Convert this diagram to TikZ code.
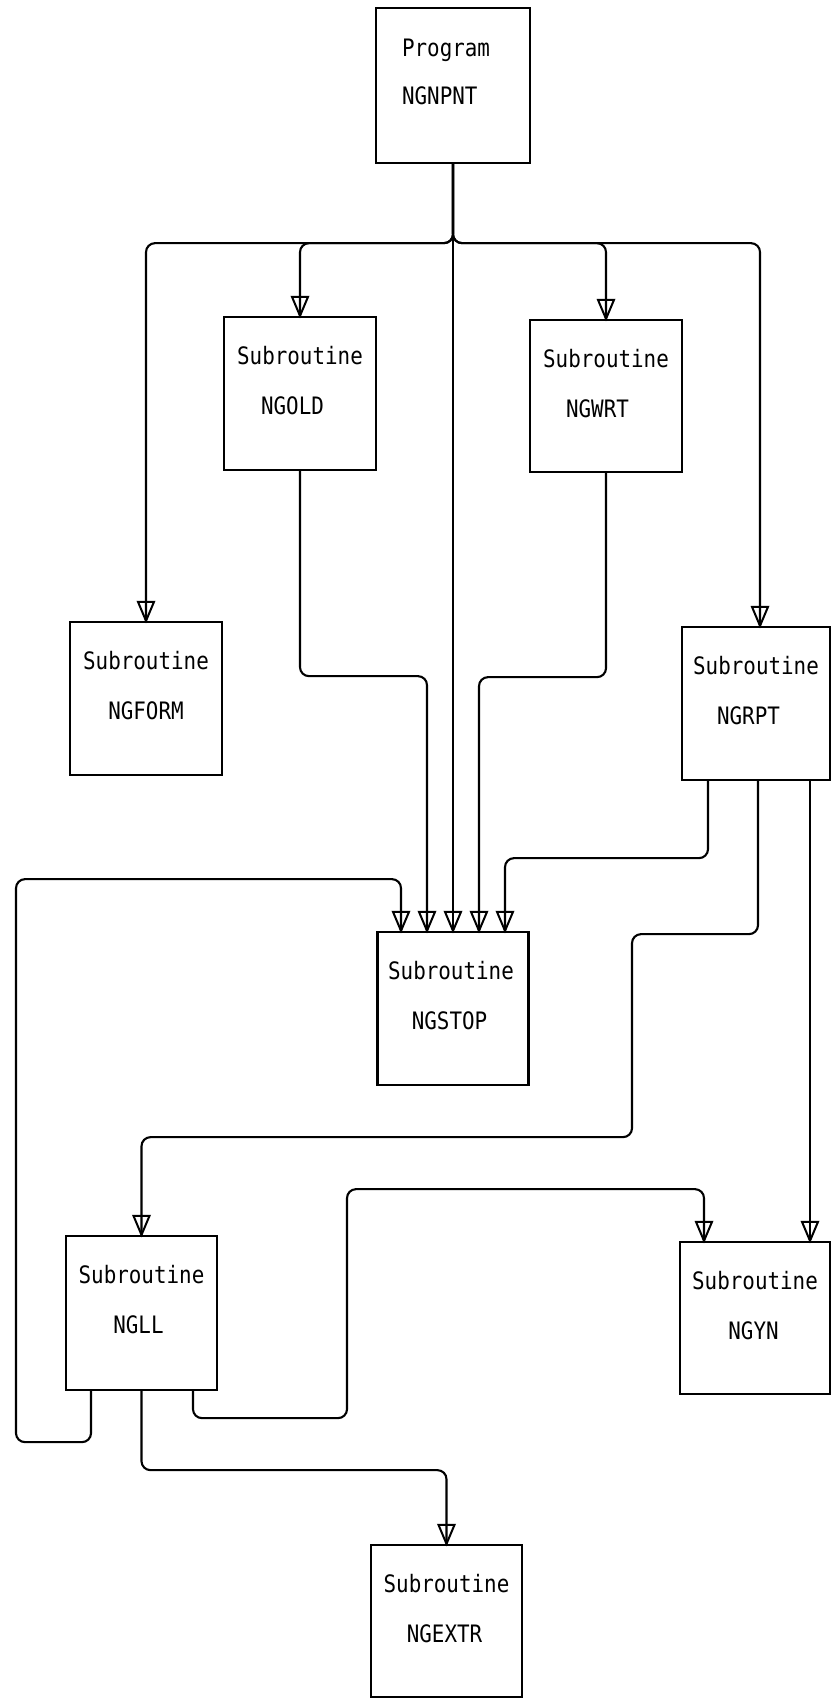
\documentclass[tikz,border=0pt]{standalone}
\usepackage{fontspec}
\newfontfamily\plotfont[FakeStretch=0.87]{DejaVu Sans Mono}
\usetikzlibrary{decorations.markings}
\begin{document}
\begin{tikzpicture}[x=1pt,y=-1pt,
  box/.style={draw, line width=2.3pt, minimum width=152pt, minimum height=153pt, inner sep=0pt},
  lbl/.style={font=\plotfont\fontsize{24}{24}\selectfont, inner sep=0pt, anchor=base},
  lblw/.style={lbl, anchor=base west},
  conn/.style={line width=2.1pt, rounded corners=9pt, postaction={decorate},
    decoration={markings, mark=at position 1 with {\draw[line width=2pt, sharp corners] (0pt,0pt) -- (-19pt,8pt) -- (-19pt,-8pt) -- cycle;}}}
]
\fill[white] (0,0) rectangle (831,1698);
\useasboundingbox (0,0) rectangle (831,1698);

% boxes
\node[box, minimum width=154pt, minimum height=155pt] (npnt) at (453,85.5) {};
\node[box] (old)  at (300,393.5) {};
\node[box, minimum height=152pt] (wrt)  at (606,396) {};
\node[box] (form) at (146,698.5) {};
\node[box, minimum width=148pt] (rpt)  at (756,703.5) {};
\node[box, minimum width=151pt] (stop) at (453,1008.5) {};
\node[box, minimum width=151pt, minimum height=154pt] (ll)   at (141.5,1313) {};
\node[box, minimum width=150pt, minimum height=152pt] (yn)   at (755,1318) {};
\node[box, minimum width=151pt, minimum height=152pt] (extr) at (446.5,1621) {};

% labels
\node[lblw] (t1) at ([xshift=27pt,yshift=-50pt]npnt.north west) {Program};
\node[lblw] (n1) at ([xshift=27pt,yshift=-98pt]npnt.north west) {NGNPNT};

\node[lbl] (t2) at ([yshift=-49pt]old.north) {Subroutine};
\node[lbl] (n2) at ([xshift=-7.5pt,yshift=-99pt]old.north) {NGOLD};

\node[lbl] (t3) at ([yshift=-49pt]wrt.north) {Subroutine};
\node[lbl] (n3) at ([xshift=-8.5pt,yshift=-99pt]wrt.north) {NGWRT};

\node[lbl] (t4) at ([yshift=-49pt]form.north) {Subroutine};
\node[lbl] (n4) at ([yshift=-99pt]form.north) {NGFORM};

\node[lbl] (t5) at ([yshift=-49pt]rpt.north) {Subroutine};
\node[lbl] (n5) at ([xshift=-7.5pt,yshift=-99pt]rpt.north) {NGRPT};

\node[lbl] (t6) at ([xshift=-2pt,yshift=-49pt]stop.north) {Subroutine};
\node[lbl] (n6) at ([xshift=-3.5pt,yshift=-99pt]stop.north) {NGSTOP};

\node[lbl] (t7) at ([yshift=-49pt]ll.north) {Subroutine};
\node[lbl] (n7) at ([xshift=-3pt,yshift=-99pt]ll.north) {NGLL};

\node[lbl] (t8) at ([yshift=-49pt]yn.north) {Subroutine};
\node[lbl] (n8) at ([xshift=-1.5pt,yshift=-99pt]yn.north) {NGYN};

\node[lbl] (t9) at ([yshift=-49pt]extr.north) {Subroutine};
\node[lbl] (n9) at ([xshift=-2pt,yshift=-99pt]extr.north) {NGEXTR};

% connectors from the program
\draw[conn] (npnt.south) -- ++(0,79) -| (form.north);
\draw[conn] (npnt.south) -- ++(0,79) -| (old.north);
\draw[conn] (npnt.south) -- ++(0,79) -| (wrt.north);
\draw[conn] (npnt.south) -- ++(0,79) -| ([xshift=4pt]rpt.north);
\draw[conn] (npnt.south) -- (stop.north);

% into NGSTOP
\draw[conn] (old.south) -- ++(0,205) -| ([xshift=-26pt]stop.north);
\draw[conn] (wrt.south) -- ++(0,204) -| ([xshift=26pt]stop.north);
\draw[conn] ([xshift=-48pt]rpt.south) -- ++(0,77) -| ([xshift=52pt]stop.north);

% from NGRPT
\draw[conn] ([xshift=2pt]rpt.south) -- ++(0,153) -- ++(-126,0) -- ++(0,203) -| (ll.north);
\draw[conn] ([xshift=54pt]rpt.south) -- ([xshift=55pt]yn.north);

% from NGLL
\draw[conn] ([xshift=-50.5pt]ll.south) -- ++(0,51) -- ++(-75,0) -- ++(0,-563) -| ([xshift=-52pt]stop.north);
\draw[conn] (ll.south) -- ++(0,79) -| (extr.north);
\draw[conn] ([xshift=51.5pt]ll.south) -- ++(0,27) -- ++(154,0) -- ++(0,-229) -| ([xshift=-51pt]yn.north);
\end{tikzpicture}
\end{document}
